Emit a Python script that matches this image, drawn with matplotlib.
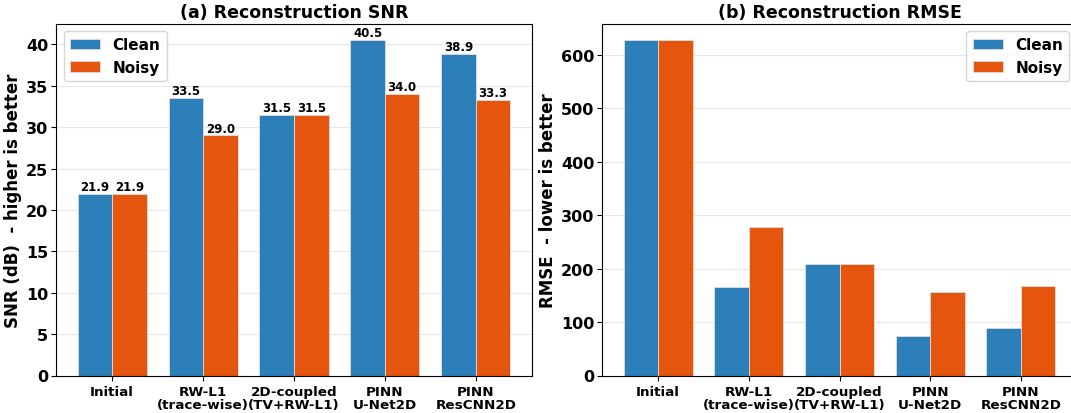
import numpy as np
import matplotlib.pyplot as plt

methods = ['Initial', 'RW-L1\n(trace-wise)', '2D-coupled\n(TV+RW-L1)', 'PINN\nU-Net2D', 'PINN\nResCNN2D']
snr_clean = [21.9, 33.5, 31.5, 40.5, 38.9]
snr_noisy = [21.9, 29.0, 31.5, 34.0, 33.3]
rmse_clean = [627, 165, 208, 74, 88]
rmse_noisy = [627, 278, 209, 156, 168]

c_clean = '#2c7fb8'
c_noisy = '#e6550d'
w = 0.38
x = np.arange(len(methods))

fig = plt.figure(figsize=(10.71, 4.14), dpi=100)
ax1 = fig.add_axes([56/1071, 37.5/414, 476/1071, 352/414])
ax2 = fig.add_axes([602/1071, 37.5/414, 475/1071, 352/414])

# (a) SNR
b1 = ax1.bar(x - w/2, snr_clean, w, color=c_clean, edgecolor='#dddddd', linewidth=0.6, label='Clean')
b2 = ax1.bar(x + w/2, snr_noisy, w, color=c_noisy, edgecolor='#dddddd', linewidth=0.6, label='Noisy')
for bars in (b1, b2):
    for bar in bars:
        h = bar.get_height()
        ax1.text(bar.get_x() + bar.get_width()/2, h + 0.1, f'{h:.1f}',
                 ha='center', va='bottom', fontsize=8.5, fontweight='bold')
ax1.set_ylim(0, max(snr_clean) * 1.05)
ax1.set_title('(a) Reconstruction SNR', fontsize=12.5, fontweight='bold', pad=5)
ax1.set_ylabel('SNR (dB)  - higher is better', fontsize=12, fontweight='bold', labelpad=3)
ax1.legend(loc='upper left', prop={'weight': 'bold', 'size': 11})

# (b) RMSE
ax2.bar(x - w/2, rmse_clean, w, color=c_clean, edgecolor='#dddddd', linewidth=0.6, label='Clean')
ax2.bar(x + w/2, rmse_noisy, w, color=c_noisy, edgecolor='#dddddd', linewidth=0.6, label='Noisy')
ax2.set_ylim(0, max(rmse_clean) * 1.05)
ax2.set_title('(b) Reconstruction RMSE', fontsize=12.5, fontweight='bold', pad=5)
ax2.set_ylabel('RMSE  - lower is better', fontsize=12, fontweight='bold', labelpad=3)
ax2.legend(loc='upper right', prop={'weight': 'bold', 'size': 11})

for ax in (ax1, ax2):
    ax.set_xticks(x)
    ax.set_xticklabels(methods, fontsize=9.7, fontweight='bold', linespacing=0.95)
    ax.tick_params(axis='y', pad=2, length=3.5)
    for lbl in ax.get_yticklabels():
        lbl.set_fontweight('bold')
        lbl.set_fontsize(11.5)
    ax.grid(axis='y', alpha=0.3)
    ax.set_axisbelow(True)

fig.savefig('out.png', dpi=100)
